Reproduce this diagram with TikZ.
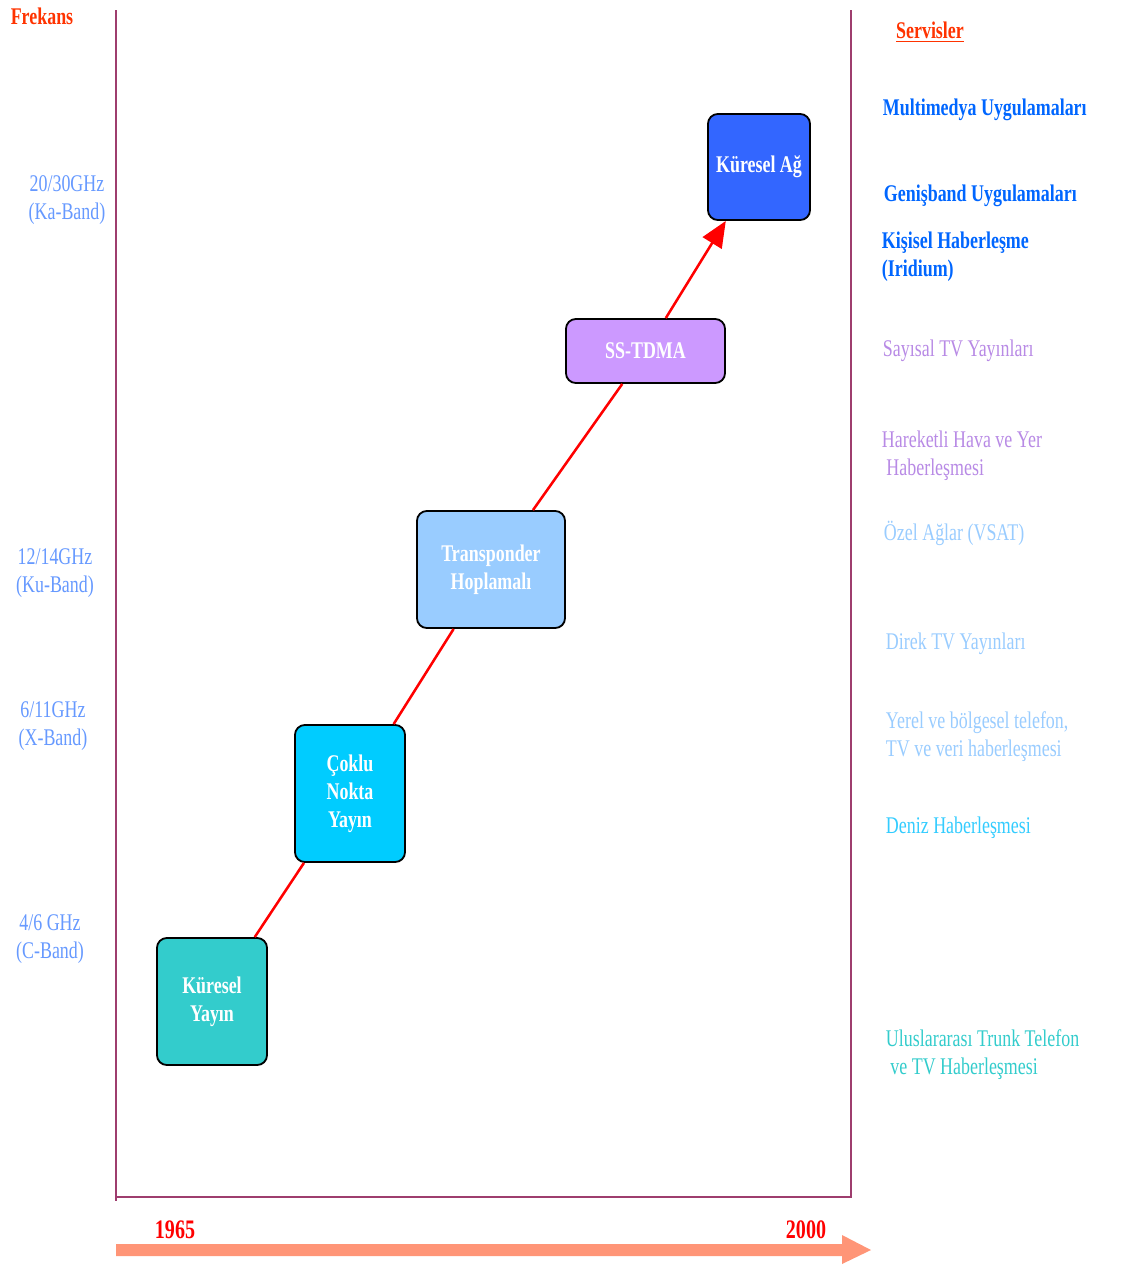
\documentclass[tikz,border=0pt]{standalone}
\usepackage{fontspec}
\setmainfont{Liberation Serif}[FakeStretch=0.75]
\usetikzlibrary{arrows.meta}
\definecolor{eksen}{HTML}{9E3D6E}
\definecolor{baslik}{HTML}{FF3300}
\definecolor{bantmavi}{HTML}{6699FF}
\definecolor{koyumavi}{HTML}{0066FF}
\definecolor{lila}{HTML}{CC99FF}
\definecolor{acikmavi}{HTML}{99CCFF}
\definecolor{camgobegi}{HTML}{00CCFF}
\definecolor{denizmavi}{HTML}{33CCFF}
\definecolor{turkuaz}{HTML}{33CCCC}
\definecolor{gecemavi}{HTML}{3366FF}
\definecolor{somon}{HTML}{FF9577}
\begin{document}
\begin{tikzpicture}[x=0.025cm,y=-0.025cm,font=\fontsize{17}{20}\selectfont,
	kutu/.style={draw=black,line width=1.3pt,rounded corners=7pt,text=white,align=center,inner sep=0pt,font=\fontsize{17}{20}\selectfont\bfseries},
	servis/.style={anchor=west,align=left},
	bant/.style={text=bantmavi,align=center},
	baglanti/.style={draw=red,line width=1.8pt}]
	\useasboundingbox (0,0) rectangle (1122,1265);
	% eksenler
	\draw[eksen,line width=1.2pt] (116,10) -- (116,1201);
	\draw[eksen,line width=1.2pt] (116,1197) -- (851,1197) -- (851,10);
	\node[text=baslik,font=\fontsize{17}{20}\selectfont\bfseries] (frekans) at (42,16) {Frekans};
	\node[text=baslik,font=\fontsize{17}{20}\selectfont\bfseries] (servisler) at (930,32) {\underline{Servisler}};
	% frekans bantlari
	\node[bant] (ka) at (67,200) {20/30GHz\\(Ka-Band)};
	\node[bant] (ku) at (55,573) {12/14GHz\\(Ku-Band)};
	\node[bant] (xb) at (53,726) {6/11GHz\\(X-Band)};
	\node[bant] (cb) at (50,939) {4/6 GHz\\(C-Band)};
	% kutular
	\node[kutu,fill=turkuaz,minimum width=2.75cm,minimum height=3.175cm] (yayin) at (212,1001.5) {Küresel\\Yayın};
	\node[kutu,fill=camgobegi,minimum width=2.75cm,minimum height=3.425cm] (coklu) at (350,793.5) {Çoklu\\Nokta\\Yayın};
	\node[kutu,fill=acikmavi,minimum width=3.7cm,minimum height=2.925cm] (trans) at (491,569.5) {Transponder\\Hoplamalı};
	\node[kutu,fill=lila,minimum width=3.975cm,minimum height=1.6cm] (ss) at (645.5,351) {SS-TDMA};
	\node[kutu,fill=gecemavi,minimum width=2.55cm,minimum height=2.65cm] (ag) at (759,167) {Küresel Ağ};
	\foreach \a/\b in {yayin/coklu,coklu/trans,trans/ss}
		\draw[baglanti] (\a) -- (\b);
	\draw[baglanti,-{Triangle[length=0.65cm,width=0.55cm]}] (ss) -- (ag);
	% servisler
	\node[servis,text=koyumavi,font=\fontsize{17}{20}\selectfont\bfseries] (s1) at (878,110) {Multimedya Uygulamaları};
	\node[servis,text=koyumavi,font=\fontsize{17}{20}\selectfont\bfseries] (s2) at (879,196) {Genişband Uygulamaları};
	\node[servis,text=koyumavi,font=\fontsize{17}{20}\selectfont\bfseries] (s3) at (877,256.5) {Kişisel Haberleşme\\(Iridium)};
	\node[servis,text=lila!90!black] (s4) at (878,351) {Sayısal TV Yayınları};
	\node[servis,text=lila!90!black] (s5) at (877,456) {Hareketli Hava ve Yer\\\ Haberleşmesi};
	\node[servis,text=acikmavi] (s6) at (879,533) {Özel Ağlar (VSAT)};
	\node[servis,text=acikmavi] (s7) at (881,644) {Direk TV Yayınları};
	\node[servis,text=acikmavi] (s8) at (881,737) {Yerel ve bölgesel telefon,\\TV ve veri haberleşmesi};
	\node[servis,text=denizmavi] (s9) at (881,828) {Deniz Haberleşmesi};
	\node[servis,text=turkuaz] (s10) at (881,1054.5) {Uluslararası Trunk Telefon\\\ ve TV Haberleşmesi};
	% zaman ekseni
	\node[text=red,font=\fontsize{19}{22}\selectfont\bfseries] (y1965) at (175,1230) {1965};
	\node[text=red,font=\fontsize{19}{22}\selectfont\bfseries] (y2000) at (806,1230) {2000};
	\fill[somon] (116,1244) -- (842,1244) -- (842,1235) -- (871,1250) -- (842,1264) -- (842,1256) -- (116,1256) -- cycle;
\end{tikzpicture}
\end{document}
